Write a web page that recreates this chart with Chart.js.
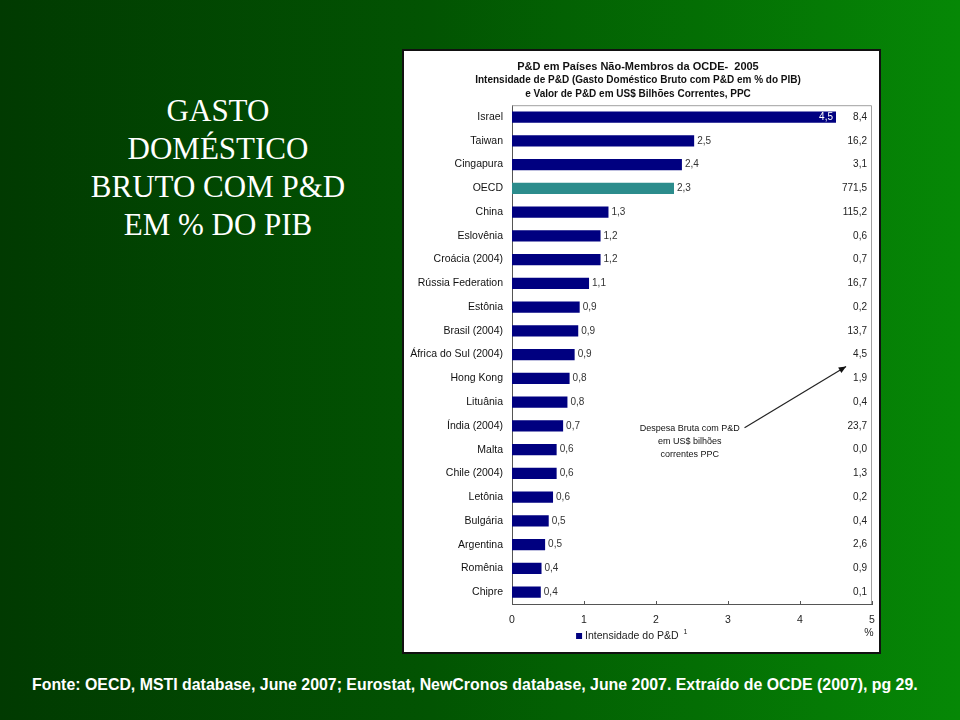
<!DOCTYPE html>
<html lang="pt">
<head>
<meta charset="utf-8">
<title>Gasto doméstico bruto com P&D em % do PIB</title>
<script src="https://cdn.jsdelivr.net/npm/chart.js@4/dist/chart.umd.min.js"></script>
<style>
    html, body { margin: 0; padding: 0; }
    body {
        width: 960px; height: 720px; overflow: hidden; position: relative;
        background: linear-gradient(to right, #013a01 0%, #025402 45%, #068806 100%);
    }
    #heading {
        position: absolute; left: 0; top: 92px; width: 436px;
        text-align: center; color: #fff;
        font: 31px/38px "Liberation Serif", "Times New Roman", serif;
    }
    #panel {
        position: absolute; left: 402px; top: 49px;
        border: 2px solid #111; background: #fff;
        width: 475px; height: 601px;
    }
    #panel canvas { display: block; }
    #source {
        position: absolute; left: 32px; top: 675px; white-space: nowrap;
        color: #fff; font: bold 15.9px/20px "Liberation Sans", Arial, sans-serif;
    }
</style>
</head>
<body>

<div id="heading">GASTO<br>DOMÉSTICO<br>BRUTO COM P&amp;D<br>EM % DO PIB</div>

<div id="panel"><canvas id="rdChart" width="475" height="601"></canvas></div>

<div id="source">Fonte: OECD, MSTI database, June 2007; Eurostat, NewCronos database, June 2007. Extraído de OCDE (2007), pg 29.</div>

<script>
// Countries (top to bottom)
const countries = [
    'Israel', 'Taiwan', 'Cingapura', 'OECD', 'China', 'Eslovênia', 'Croácia (2004)',
    'Rússia Federation', 'Estônia', 'Brasil (2004)', 'África do Sul (2004)', 'Hong Kong',
    'Lituânia', 'Índia (2004)', 'Malta', 'Chile (2004)', 'Letônia', 'Bulgária',
    'Argentina', 'Romênia', 'Chipre'
];

// Intensidade de P&D (% do PIB) - bar length, as drawn
const intensity = [
    4.5, 2.53, 2.36, 2.25, 1.34, 1.23, 1.23,
    1.07, 0.94, 0.92, 0.87, 0.8,
    0.77, 0.71, 0.62, 0.62, 0.57, 0.51,
    0.46, 0.41, 0.4
];

// rounded labels printed next to the bars
const intensityLabels = [
    '4,5', '2,5', '2,4', '2,3', '1,3', '1,2', '1,2',
    '1,1', '0,9', '0,9', '0,9', '0,8',
    '0,8', '0,7', '0,6', '0,6', '0,6', '0,5',
    '0,5', '0,4', '0,4'
];

// Despesa bruta com P&D, US$ bilhões correntes PPC
const spending = [
    '8,4', '16,2', '3,1', '771,5', '115,2', '0,6', '0,7',
    '16,7', '0,2', '13,7', '4,5', '1,9',
    '0,4', '23,7', '0,0', '1,3', '0,2', '0,4',
    '2,6', '0,9', '0,1'
];

const xTicks = [0, 1, 2, 3, 4, 5];

const NAVY = '#000080';
const TEAL = '#2c8c8c';
const FONT = 'Liberation Sans, Arial, sans-serif';

const barColors = countries.map(c => c === 'OECD' ? TEAL : NAVY);

// value labels, spend column, frame, inner ticks, legend and callout
const panelExtras = {
    id: 'panelExtras',
    afterDatasetsDraw(chart) {
        const ctx = chart.ctx;
        const bars = chart.getDatasetMeta(0).data;
        const xs = chart.scales.x;
        ctx.save();
        ctx.textBaseline = 'middle';
        bars.forEach((bar, i) => {
            ctx.font = '10px ' + FONT;
            if (bar.x > xs.getPixelForValue(4)) {
                ctx.fillStyle = '#fff';
                ctx.textAlign = 'right';
                ctx.fillText(intensityLabels[i], bar.x - 3, bar.y);
            } else {
                ctx.fillStyle = '#333';
                ctx.textAlign = 'left';
                ctx.fillText(intensityLabels[i], bar.x + 3, bar.y);
            }
            ctx.fillStyle = '#222';
            ctx.textAlign = 'right';
            ctx.fillText(spending[i], xs.getPixelForValue(5) - 5, bar.y);
        });
        ctx.restore();
    },
    afterDraw(chart) {
        const ctx = chart.ctx;
        const a = chart.chartArea;
        const xs = chart.scales.x;
        const ys = chart.scales.y;
        ctx.save();

        // top / right frame
        ctx.strokeStyle = '#a0a0a0';
        ctx.lineWidth = 1;
        ctx.beginPath();
        ctx.moveTo(a.left, a.top + 0.5);
        ctx.lineTo(a.right - 0.5, a.top + 0.5);
        ctx.lineTo(a.right - 0.5, a.bottom);
        ctx.stroke();

        // inward tick marks on x axis
        ctx.strokeStyle = '#555';
        xTicks.forEach(v => {
            const px = Math.round(xs.getPixelForValue(v)) + 0.5;
            ctx.beginPath();
            ctx.moveTo(px, a.bottom);
            ctx.lineTo(px, a.bottom - 3);
            ctx.stroke();
        });

        // unit
        ctx.fillStyle = '#222';
        ctx.font = '10.5px ' + FONT;
        ctx.textAlign = 'center';
        ctx.textBaseline = 'middle';
        ctx.fillText('%', xs.getPixelForValue(5) - 3, a.bottom + 29);

        // legend
        const lx = xs.getPixelForValue(0.89);
        const ly = a.bottom + 32;
        ctx.fillStyle = NAVY;
        ctx.fillRect(lx, ly - 3, 6, 6);
        ctx.fillStyle = '#222';
        ctx.textAlign = 'left';
        ctx.fillText('Intensidade do P&D', lx + 9, ly);
        const tw = ctx.measureText('Intensidade do P&D').width;
        ctx.font = '7px ' + FONT;
        ctx.fillText('1', lx + 9 + tw + 5, ly - 4);

        // callout
        const yIndia = ys.getPixelForValue(countries.indexOf('Índia (2004)'));
        const yAfr = ys.getPixelForValue(countries.indexOf('África do Sul (2004)'));
        const yHk = ys.getPixelForValue(countries.indexOf('Hong Kong'));
        const tx = xs.getPixelForValue(2.47);
        ctx.font = '9px ' + FONT;
        ctx.fillStyle = '#111';
        ctx.textAlign = 'center';
        ['Despesa Bruta com P&D', 'em US$ bilhões', 'correntes PPC'].forEach((t, k) => {
            ctx.fillText(t, tx, yIndia + 3 + k * 13);
        });
        const x0 = xs.getPixelForValue(3.23), y0 = yIndia + 2;
        const x1 = xs.getPixelForValue(4.64), y1 = (yAfr + yHk) / 2;
        ctx.strokeStyle = '#222';
        ctx.lineWidth = 1.2;
        ctx.beginPath();
        ctx.moveTo(x0, y0);
        ctx.lineTo(x1, y1);
        ctx.stroke();
        const ang = Math.atan2(y1 - y0, x1 - x0);
        ctx.fillStyle = '#111';
        ctx.beginPath();
        ctx.moveTo(x1, y1);
        ctx.lineTo(x1 - 8 * Math.cos(ang - 0.4), y1 - 8 * Math.sin(ang - 0.4));
        ctx.lineTo(x1 - 8 * Math.cos(ang + 0.4), y1 - 8 * Math.sin(ang + 0.4));
        ctx.closePath();
        ctx.fill();

        ctx.restore();
    }
};

new Chart(document.getElementById('rdChart').getContext('2d'), {
    type: 'bar',
    data: {
        labels: countries,
        datasets: [{
            label: 'Intensidade do P&D',
            data: intensity,
            backgroundColor: barColors,
            borderWidth: 0,
            barPercentage: 0.47,
            categoryPercentage: 1
        }]
    },
    options: {
        indexAxis: 'y',
        responsive: false,
        animation: false,
        layout: { padding: { left: 0, right: 7, top: 0, bottom: 0 } },
        plugins: {
            legend: { display: false },
            tooltip: { enabled: false },
            title: {
                display: true,
                text: 'P&D em Países Não-Membros da OCDE-  2005',
                color: '#111',
                font: { family: FONT, size: 11, weight: 'bold' },
                padding: { top: 9, bottom: 0 }
            },
            subtitle: {
                display: true,
                text: ['Intensidade de P&D (Gasto Doméstico Bruto com P&D em % do PIB)',
                       'e Valor de P&D em US$ Bilhões Correntes, PPC'],
                color: '#111',
                font: { family: FONT, size: 10, weight: 'bold', lineHeight: 1.4 },
                padding: { top: 0, bottom: 4 }
            }
        },
        scales: {
            x: {
                min: 0,
                max: 5,
                afterFit: s => { s.height = 48; s.paddingRight = 0; s.paddingLeft = 0; },
                afterBuildTicks: s => { s.ticks = xTicks.map(v => ({ value: v })); },
                grid: { display: false, drawTicks: false },
                border: { display: true, color: '#555' },
                ticks: { color: '#222', padding: 10, font: { family: FONT, size: 10.5 } }
            },
            y: {
                afterFit: s => { s.width = 108; },
                grid: { display: false, drawTicks: false },
                border: { display: true, color: '#555' },
                ticks: { color: '#111', padding: 9, autoSkip: false, font: { family: FONT, size: 10.5 } }
            }
        }
    },
    plugins: [panelExtras]
});
</script>
</body>
</html>
